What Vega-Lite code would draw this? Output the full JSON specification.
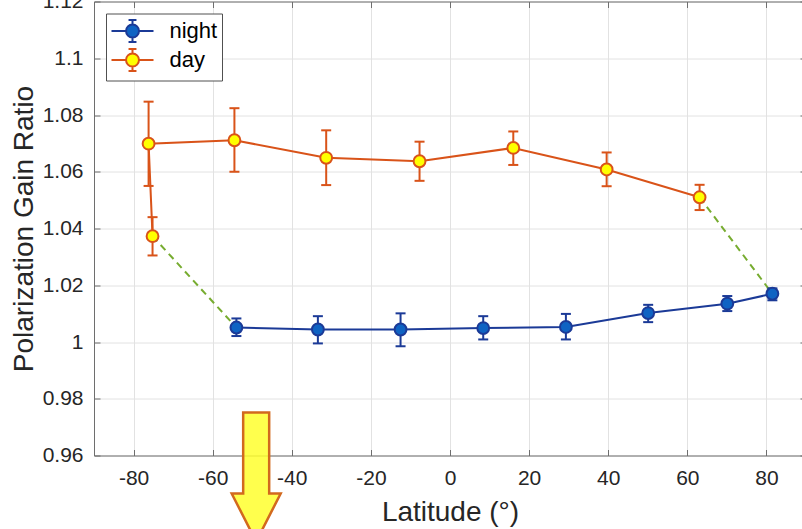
{
  "$schema": "https://vega.github.io/schema/vega-lite/v6.json",
  "width": 712,
  "height": 454,
  "autosize": {"type": "none"},
  "padding": {"left": 94, "top": 1.5, "right": 0, "bottom": 74},
  "background": "white",
  "config": {
    "font": "Liberation Sans",
    "view": {"stroke": null}
  },
  "datasets": {
    "pts": [
      {"series": "night", "ord": 1, "lat": -54.0, "val": 1.0051, "lo": 1.0021, "hi": 1.0083},
      {"series": "night", "ord": 2, "lat": -33.4, "val": 1.0044, "lo": 0.9995, "hi": 1.0091},
      {"series": "night", "ord": 3, "lat": -12.5, "val": 1.0044, "lo": 0.9985, "hi": 1.0101},
      {"series": "night", "ord": 4, "lat": 8.4, "val": 1.0049, "lo": 1.0009, "hi": 1.0091},
      {"series": "night", "ord": 5, "lat": 29.3, "val": 1.0053, "lo": 1.0009, "hi": 1.0099},
      {"series": "night", "ord": 6, "lat": 50.1, "val": 1.0102, "lo": 1.0070, "hi": 1.0131},
      {"series": "night", "ord": 7, "lat": 70.1, "val": 1.0135, "lo": 1.0109, "hi": 1.0162},
      {"series": "night", "ord": 8, "lat": 81.5, "val": 1.0170, "lo": 1.0147, "hi": 1.0189},
      {"series": "day", "ord": 1, "lat": -75.2, "val": 1.0373, "lo": 1.0305, "hi": 1.0440},
      {"series": "day", "ord": 2, "lat": -76.2, "val": 1.0699, "lo": 1.0550, "hi": 1.0847},
      {"series": "day", "ord": 3, "lat": -54.5, "val": 1.0711, "lo": 1.0600, "hi": 1.0824},
      {"series": "day", "ord": 4, "lat": -31.3, "val": 1.0649, "lo": 1.0553, "hi": 1.0746},
      {"series": "day", "ord": 5, "lat": -7.7, "val": 1.0637, "lo": 1.0568, "hi": 1.0706},
      {"series": "day", "ord": 6, "lat": 16.0, "val": 1.0684, "lo": 1.0624, "hi": 1.0742},
      {"series": "day", "ord": 7, "lat": 39.6, "val": 1.0608, "lo": 1.0549, "hi": 1.0668},
      {"series": "day", "ord": 8, "lat": 63.1, "val": 1.0510, "lo": 1.0465, "hi": 1.0554}
    ],
    "links": [
      {"seg": "a", "lat": -75.2, "val": 1.0373},
      {"seg": "a", "lat": -54.0, "val": 1.0051},
      {"seg": "b", "lat": 63.1, "val": 1.0510},
      {"seg": "b", "lat": 81.5, "val": 1.0170}
    ],
    "arrow": [{"lat": -49, "val": 0.96}]
  },
  "layer": [
    {
      "data": {"name": "links"},
      "mark": {"type": "line", "stroke": "#77AC30", "strokeWidth": 2, "strokeDash": [7, 5]},
      "encoding": {
        "x": {"field": "lat", "type": "quantitative",
          "scale": {"domain": [-90, 90], "nice": false, "zero": false},
          "axis": {"orient": "bottom", "values": [-80, -60, -40, -20, 0, 20, 40, 60, 80],
            "labelExpr": "'' + datum.value", "grid": true, "gridColor": "#e2e2e2", "gridWidth": 1,
            "domainColor": "#6e6e6e", "tickColor": "#6e6e6e", "tickSize": -6, "labelPadding": 18,
            "labelFontSize": 21, "labelColor": "#262626", "labelFont": "Liberation Sans",
            "title": "Latitude (°)", "titleFontSize": 28, "titleFontWeight": "normal",
            "titleColor": "#262626", "titleFont": "Liberation Sans", "titlePadding": 10}},
        "y": {"field": "val", "type": "quantitative",
          "scale": {"domain": [0.96, 1.12], "nice": false, "zero": false},
          "axis": {"orient": "left", "values": [0.96, 0.98, 1, 1.02, 1.04, 1.06, 1.08, 1.1, 1.12],
            "format": "~g", "grid": true, "gridColor": "#e2e2e2", "gridWidth": 1,
            "domainColor": "#6e6e6e", "tickColor": "#6e6e6e", "tickSize": -6, "labelPadding": 17,
            "labelFontSize": 21, "labelColor": "#262626", "labelFont": "Liberation Sans",
            "title": "Polarization Gain Ratio", "titleFontSize": 28, "titleFontWeight": "normal",
            "titleColor": "#262626", "titleFont": "Liberation Sans", "titlePadding": 4}},
        "detail": {"field": "seg", "type": "nominal"}
      }
    },
    {
      "data": {"name": "pts"},
      "mark": {"type": "rule", "strokeWidth": 2},
      "encoding": {
        "x": {"field": "lat", "type": "quantitative",
          "axis": {"orient": "top", "values": [-80, -60, -40, -20, 0, 20, 40, 60, 80], "labels": false,
            "grid": false, "domainColor": "#6e6e6e", "tickColor": "#6e6e6e", "tickSize": -6, "title": null}},
        "y": {"field": "lo", "type": "quantitative",
          "axis": {"orient": "right", "values": [0.96, 0.98, 1, 1.02, 1.04, 1.06, 1.08, 1.1, 1.12], "labels": false,
            "grid": false, "domainColor": "#6e6e6e", "tickColor": "#6e6e6e", "tickSize": -6, "title": null}},
        "y2": {"field": "hi"},
        "color": {"field": "series", "type": "nominal",
          "scale": {"range": ["#D95319", "#1B3A97"]}, "legend": null}
      }
    },
    {
      "data": {"name": "pts"},
      "mark": {"type": "tick", "orient": "horizontal", "size": 10, "thickness": 2, "opacity": 1},
      "encoding": {
        "x": {"field": "lat", "type": "quantitative", "axis": null},
        "y": {"field": "lo", "type": "quantitative", "axis": null},
        "color": {"field": "series", "type": "nominal", "legend": null}
      }
    },
    {
      "data": {"name": "pts"},
      "mark": {"type": "tick", "orient": "horizontal", "size": 10, "thickness": 2, "opacity": 1},
      "encoding": {
        "x": {"field": "lat", "type": "quantitative", "axis": null},
        "y": {"field": "hi", "type": "quantitative", "axis": null},
        "color": {"field": "series", "type": "nominal", "legend": null}
      }
    },
    {
      "data": {"name": "pts"},
      "mark": {"type": "line", "strokeWidth": 2},
      "encoding": {
        "x": {"field": "lat", "type": "quantitative", "axis": null},
        "y": {"field": "val", "type": "quantitative", "axis": null},
        "color": {"field": "series", "type": "nominal", "legend": null},
        "detail": {"field": "series", "type": "nominal"},
        "order": {"field": "ord", "type": "quantitative"}
      }
    },
    {
      "data": {"name": "pts"},
      "mark": {"type": "point", "shape": "circle", "filled": true, "size": 140, "strokeWidth": 2, "opacity": 1},
      "encoding": {
        "x": {"field": "lat", "type": "quantitative", "axis": null},
        "y": {"field": "val", "type": "quantitative", "axis": null},
        "fill": {"field": "series", "type": "nominal",
          "scale": {"domain": ["night", "day"], "range": ["#0F63C3", "#FFFF00"]},
          "legend": {"title": null, "orient": "top-left", "offset": 12,
            "symbolType": "M-1,0L0.21,0M1.29,0L2.5,0M0.75,-0.92L0.75,-0.54M0.75,0.54L0.75,0.92M0.42,-0.92L1.08,-0.92M0.42,0.92L1.08,0.92M1.29,0A0.54,0.54,0,1,1,0.21,0A0.54,0.54,0,1,1,1.29,0Z",
            "symbolSize": 576, "symbolStrokeWidth": 2, "symbolOpacity": 1,
            "labelFontSize": 22, "labelColor": "#000000", "labelFont": "Liberation Sans", "labelOffset": 33,
            "strokeColor": "#505050", "fillColor": "white", "padding": 4.5, "rowPadding": -4.6, "cornerRadius": 0}},
        "stroke": {"field": "series", "type": "nominal",
          "scale": {"domain": ["night", "day"], "range": ["#1B3A97", "#D95319"]},
          "legend": {"title": null, "orient": "top-left", "offset": 12,
            "symbolType": "M-1,0L0.21,0M1.29,0L2.5,0M0.75,-0.92L0.75,-0.54M0.75,0.54L0.75,0.92M0.42,-0.92L1.08,-0.92M0.42,0.92L1.08,0.92M1.29,0A0.54,0.54,0,1,1,0.21,0A0.54,0.54,0,1,1,1.29,0Z",
            "symbolSize": 576, "symbolStrokeWidth": 2, "symbolOpacity": 1,
            "labelFontSize": 22, "labelColor": "#000000", "labelFont": "Liberation Sans", "labelOffset": 33,
            "strokeColor": "#505050", "fillColor": "white", "padding": 4.5, "rowPadding": -4.6, "cornerRadius": 0}}
      }
    },
    {
      "data": {"name": "arrow"},
      "mark": {"type": "point",
        "shape": "M-0.26,-0.86L0.26,-0.86L0.26,0.76L0.49,0.76L0,1.72L-0.49,0.76L-0.26,0.76Z",
        "size": 10000, "filled": true, "fill": "#FFFF2E", "fillOpacity": 0.85,
        "stroke": "#D2691E", "strokeWidth": 2.5, "opacity": 1, "clip": false},
      "encoding": {
        "x": {"field": "lat", "type": "quantitative", "axis": null},
        "y": {"field": "val", "type": "quantitative", "axis": null}
      }
    }
  ],
  "resolve": {"axis": {"x": "independent", "y": "independent"}}
}
